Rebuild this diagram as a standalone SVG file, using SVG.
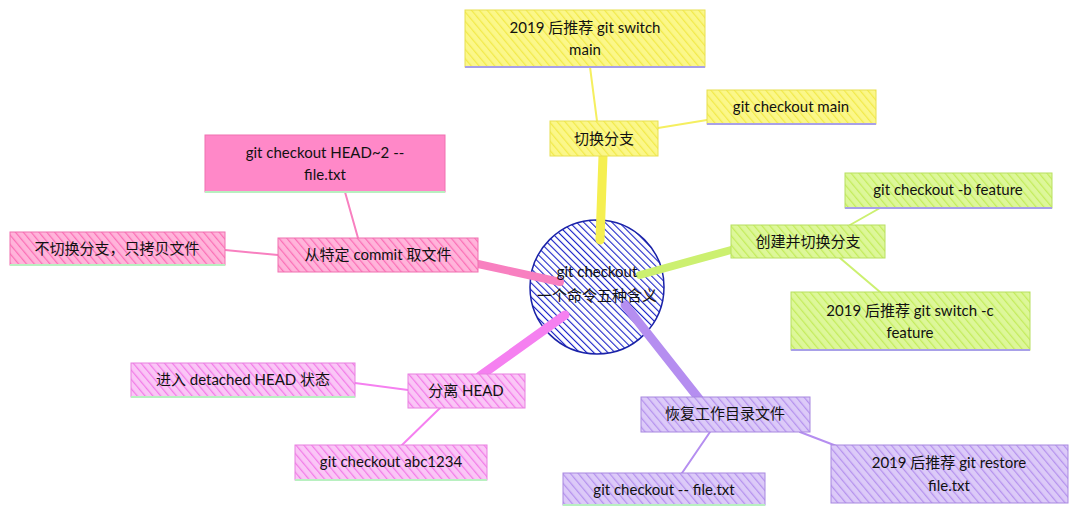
<svg xmlns="http://www.w3.org/2000/svg" width="1080" height="522" viewBox="0 0 1080 522">
<defs>
<pattern id="hy" width="6" height="6" patternUnits="userSpaceOnUse" patternTransform="rotate(-40)"><rect width="6" height="6" fill="#fbf78a"/><line x1="0" y1="0" x2="0" y2="6" stroke="#f2ea4a" stroke-width="2.5"/></pattern>
<pattern id="hg" width="6" height="6" patternUnits="userSpaceOnUse" patternTransform="rotate(-40)"><rect width="6" height="6" fill="#ddf79a"/><line x1="0" y1="0" x2="0" y2="6" stroke="#c4ec5c" stroke-width="2.5"/></pattern>
<pattern id="hp" width="6" height="6" patternUnits="userSpaceOnUse" patternTransform="rotate(-40)"><rect width="6" height="6" fill="#dccaf8"/><line x1="0" y1="0" x2="0" y2="6" stroke="#b592ee" stroke-width="2.5"/></pattern>
<pattern id="hm" width="6" height="6" patternUnits="userSpaceOnUse" patternTransform="rotate(-40)"><rect width="6" height="6" fill="#fac6f6"/><line x1="0" y1="0" x2="0" y2="6" stroke="#f27ce8" stroke-width="2.5"/></pattern>
<pattern id="hk" width="6" height="6" patternUnits="userSpaceOnUse" patternTransform="rotate(-40)"><rect width="6" height="6" fill="#ffb4da"/><line x1="0" y1="0" x2="0" y2="6" stroke="#fb6fb6" stroke-width="2.5"/></pattern>
<pattern id="hb" width="5" height="5" patternUnits="userSpaceOnUse" patternTransform="rotate(-45)"><rect width="5" height="5" fill="#ffffff"/><line x1="0" y1="0" x2="0" y2="5" stroke="#1a22c8" stroke-width="2.2"/></pattern>
<style>
text{font-family:"Lato","Noto Sans CJK SC",sans-serif;font-size:15px;fill:#111;text-anchor:middle}
.n rect{stroke-width:1}
.y{fill:url(#hy);stroke:#e8e050}.g{fill:url(#hg);stroke:#b8e060}.p{fill:url(#hp);stroke:#a888e0}.m{fill:url(#hm);stroke:#e880e0}.k{fill:url(#hk);stroke:#f070b0}
.ul{stroke-width:2;fill:none}
</style>
</defs>
<g id="center"><circle cx="597" cy="287" r="67" fill="url(#hb)" stroke="#1a22a8" stroke-width="1.5"/></g>
<g id="connectors" fill="none" stroke-linecap="round">
<path d="M600 240 L603 156" stroke="#f5ef50" stroke-width="9"/>
<path d="M640 275 L731 250" stroke="#ccf070" stroke-width="8"/>
<path d="M625 305 L700 400" stroke="#b58ef0" stroke-width="9"/>
<path d="M565 315 L480 376" stroke="#f580f0" stroke-width="9"/>
<path d="M560 282 L478 264" stroke="#f880c0" stroke-width="8"/>
<path d="M597 121 L590 67" stroke="#f5ef60" stroke-width="2"/>
<path d="M658 128 L707 120" stroke="#f5ef60" stroke-width="2"/>
<path d="M850 225 L880 208" stroke="#ccf070" stroke-width="2"/>
<path d="M840 258 L880 292" stroke="#ccf070" stroke-width="2"/>
<path d="M800 432 L860 455" stroke="#b58ef0" stroke-width="2"/>
<path d="M710 432 L680 476" stroke="#b58ef0" stroke-width="2"/>
<path d="M408 390 L355 383" stroke="#f580f0" stroke-width="2"/>
<path d="M440 408 L400 447" stroke="#f580f0" stroke-width="2"/>
<path d="M358 238 L345 192" stroke="#f880c0" stroke-width="2"/>
<path d="M278 255 L225 250" stroke="#f880c0" stroke-width="2"/>
</g>
<g id="center-label"><text x="597" y="277">git checkout</text><text x="597" y="301">一个命令五种含义</text></g>
<g id="n1" class="n"><rect class="y" x="550" y="121" width="108" height="35"/><text x="604" y="144">切换分支</text></g>
<g id="n1a" class="n"><rect class="y" x="465" y="10" width="240" height="57"/><line class="ul" x1="465" y1="67" x2="705" y2="67" stroke="#a8a0e8"/><text x="585" y="33">2019 后推荐 git switch</text><text x="585" y="55">main</text></g>
<g id="n1b" class="n"><rect class="y" x="707" y="90" width="169" height="34"/><line class="ul" x1="707" y1="124" x2="876" y2="124" stroke="#a8a0e8"/><text x="791" y="112">git checkout main</text></g>
<g id="n2" class="n"><rect class="g" x="731" y="225" width="154" height="33"/><text x="808" y="247">创建并切换分支</text></g>
<g id="n2a" class="n"><rect class="g" x="845" y="173" width="207" height="35"/><line class="ul" x1="845" y1="208" x2="1052" y2="208" stroke="#a8a0e8"/><text x="948" y="195">git checkout -b feature</text></g>
<g id="n2b" class="n"><rect class="g" x="791" y="292" width="239" height="58"/><line class="ul" x1="791" y1="350" x2="1030" y2="350" stroke="#a8a0e8"/><text x="910" y="316">2019 后推荐 git switch -c</text><text x="910" y="338">feature</text></g>
<g id="n3" class="n"><rect class="p" x="641" y="397" width="169" height="35"/><text x="725" y="419">恢复工作目录文件</text></g>
<g id="n3a" class="n"><rect class="p" x="831" y="445" width="237" height="58"/><text x="949" y="468">2019 后推荐 git restore</text><text x="949" y="491">file.txt</text></g>
<g id="n3b" class="n"><rect class="p" x="563" y="473" width="202" height="32"/><line class="ul" x1="563" y1="505" x2="765" y2="505" stroke="#b8f0c0"/><text x="664" y="495">git checkout -- file.txt</text></g>
<g id="n4" class="n"><rect class="m" x="408" y="374" width="117" height="34"/><text x="466" y="396">分离 HEAD</text></g>
<g id="n4a" class="n"><rect class="m" x="131" y="363" width="224" height="34"/><line class="ul" x1="131" y1="397" x2="355" y2="397" stroke="#b8f0c0"/><text x="243" y="385">进入 detached HEAD 状态</text></g>
<g id="n4b" class="n"><rect class="m" x="295" y="445" width="192" height="35"/><line class="ul" x1="295" y1="480" x2="487" y2="480" stroke="#b8f0c0"/><text x="391" y="467">git checkout abc1234</text></g>
<g id="n5" class="n"><rect class="k" x="278" y="238" width="200" height="34"/><text x="378" y="260">从特定 commit 取文件</text></g>
<g id="n5a" class="n"><rect x="205" y="135" width="240" height="57" fill="#ff88c8" stroke="#f070b0"/><line class="ul" x1="205" y1="192" x2="445" y2="192" stroke="#b8f0c0"/><text x="325" y="158">git checkout HEAD~2 --</text><text x="325" y="180">file.txt</text></g>
<g id="n5b" class="n"><rect class="k" x="10" y="232" width="215" height="33"/><line class="ul" x1="10" y1="265" x2="225" y2="265" stroke="#b8f0c0"/><text x="117" y="254">不切换分支，只拷贝文件</text></g>
</svg>
